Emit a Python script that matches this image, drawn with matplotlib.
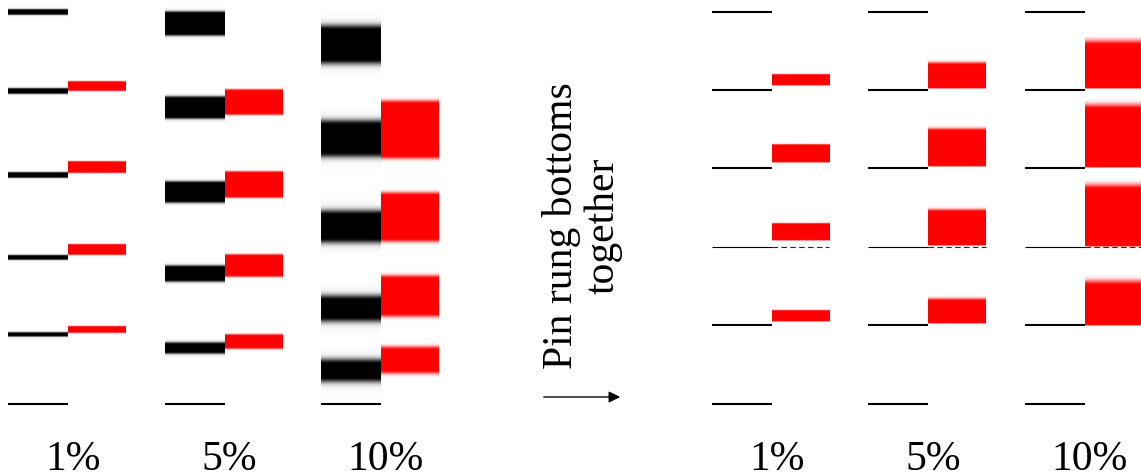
import numpy as np
import matplotlib.pyplot as plt
from matplotlib.patches import FancyArrowPatch

noise_labels = ["1%", "5%", "10%"]

# rung heights (bottom rung at 0, top near 100) before pinning; one row per noise level
left_rung_mid = [
    [17.5, 37.2, 58.3, 79.7, 99.9],
    [14.1, 33.0, 53.8, 75.5, 96.8],
    [8.4, 24.2, 45.0, 67.7, 91.5],
]
left_rung_half = [
    [0.3, 0.4, 0.5, 0.5, 0.5],
    [1.0, 1.6, 2.3, 2.4, 2.6],
    [1.8, 2.2, 3.0, 3.6, 3.8],
]
# red gaps sitting on top of each rung
left_gap_lo = [
    [18.1, 38.0, 58.9, 79.8],
    [14.3, 32.6, 52.9, 74.0],
    [8.4, 22.8, 42.0, 63.2],
]
left_gap_hi = [
    [19.5, 40.4, 61.5, 81.9],
    [17.3, 37.6, 58.8, 79.8],
    [13.6, 31.8, 53.0, 76.4],
]

# after pinning the bottoms together
right_rungs = [0, 20, 40, 60, 80, 100]
right_gap_lo = [
    [21.0, 41.8, 61.7, 81.3],
    [20.5, 40.5, 60.6, 80.6],
    [20.1, 40.3, 60.3, 80.4],
]
right_gap_hi = [
    [23.6, 45.8, 65.9, 83.8],
    [26.0, 49.0, 69.5, 86.5],
    [30.1, 54.7, 75.1, 91.3],
]

# edge softness for each noise level
black_soft = [0.25, 0.5, 1.3]
red_soft = [0.2, 0.4, 0.9]
red_soft_top_r = [0.2, 0.7, 1.3]
pinned = 40

BW = 0.383   # black rung width
RW = 0.37    # red bar width
SERIF = "Liberation Serif"


def show_profile(ax, x0, x1, h, a, rgb):
    img = np.zeros((len(h), 1, 4))
    img[:, 0, :3] = rgb
    img[:, 0, 3] = np.clip(a, 0, 1)
    ax.imshow(img, extent=[x0, x1, h[0], h[-1]], origin="lower",
              aspect="auto", interpolation="bilinear")


def soft_band(ax, x0, x1, lo, hi, f_lo, f_hi, rgb):
    f_lo = max(f_lo, 0.05)
    f_hi = max(f_hi, 0.05)
    h = np.linspace(lo - 3.5 * f_lo, hi + 3.5 * f_hi, 500)
    a = np.ones_like(h)
    b = h < lo
    a[b] = np.exp(-((lo - h[b]) / f_lo) ** 2)
    t = h > hi
    a[t] = np.exp(-((h[t] - hi) / f_hi) ** 2)
    show_profile(ax, x0, x1, h, a, rgb)


def rung_band(ax, x0, x1, mid, half, f):
    # solid core, quick falloff and a short faint tail
    h = np.linspace(mid - half - 4 * f, mid + half + 4 * f, 800)
    d = np.clip(np.abs(h - mid) - half, 0, None)
    a = np.exp(-(d / f) ** 2) * 0.88 + np.exp(-d / (1.4 * f)) * 0.12
    a = a * np.clip((4 * f - d) / f, 0, 1)
    show_profile(ax, x0, x1, h, a, (0, 0, 0))


fig = plt.figure(figsize=(11.41, 4.77), dpi=100)
ylim = (-18.49, 103.19)

# left: rungs with noise
axL = fig.add_axes([0, 0, 459 / 1141, 1])
for i in range(3):
    axL.plot([i - BW, i], [0, 0], color="black", lw=1.5, solid_capstyle="butt")
    for m, hw in zip(left_rung_mid[i], left_rung_half[i]):
        rung_band(axL, i - BW, i, m, hw, black_soft[i])
    for lo, hi in zip(left_gap_lo[i], left_gap_hi[i]):
        soft_band(axL, i, i + RW, lo, hi, red_soft[i], red_soft[i], (1, 0, 0))
    axL.text(i + 0.03, -16.7, noise_labels[i], ha="center", va="baseline",
             fontsize=30, family=SERIF)
axL.set_xlim(-68 / 156.5, 391 / 156.5)
axL.set_ylim(*ylim)
axL.axis("off")

# right: bottoms pinned
axR = fig.add_axes([693.25 / 1141, 0, 447.75 / 1141, 1])
for i in range(3):
    for r in right_rungs:
        axR.plot([i - BW, i], [r, r], color="black",
                 lw=0.8 if r == pinned else 1.5, solid_capstyle="butt")
    for lo, hi in zip(right_gap_lo[i], right_gap_hi[i]):
        soft_band(axR, i, i + RW, lo, hi, 0.15, red_soft_top_r[i], (1, 0, 0))
    axR.plot([i, i + RW], [pinned, pinned], color="black", lw=0.8,
             dashes=(5, 3), alpha=0.85)
    axR.text(i + 0.035, -16.7, noise_labels[i], ha="center", va="baseline",
             fontsize=30, family=SERIF)
axR.set_xlim(-0.5, 369.5 / 156.5)
axR.set_ylim(*ylim)
axR.axis("off")

fig.text(582 / 1141, 1 - 226 / 477, "Pin rung bottoms\ntogether", rotation=90,
         ha="center", va="center", multialignment="center", fontsize=30,
         family=SERIF, linespacing=1.1)
fig.add_artist(FancyArrowPatch(
    (541 / 1141, 1 - 398 / 477), (623 / 1141, 1 - 398 / 477),
    transform=fig.transFigure, arrowstyle="-|>", mutation_scale=17,
    color="black", lw=1))

fig.savefig("out.png", dpi=100)
